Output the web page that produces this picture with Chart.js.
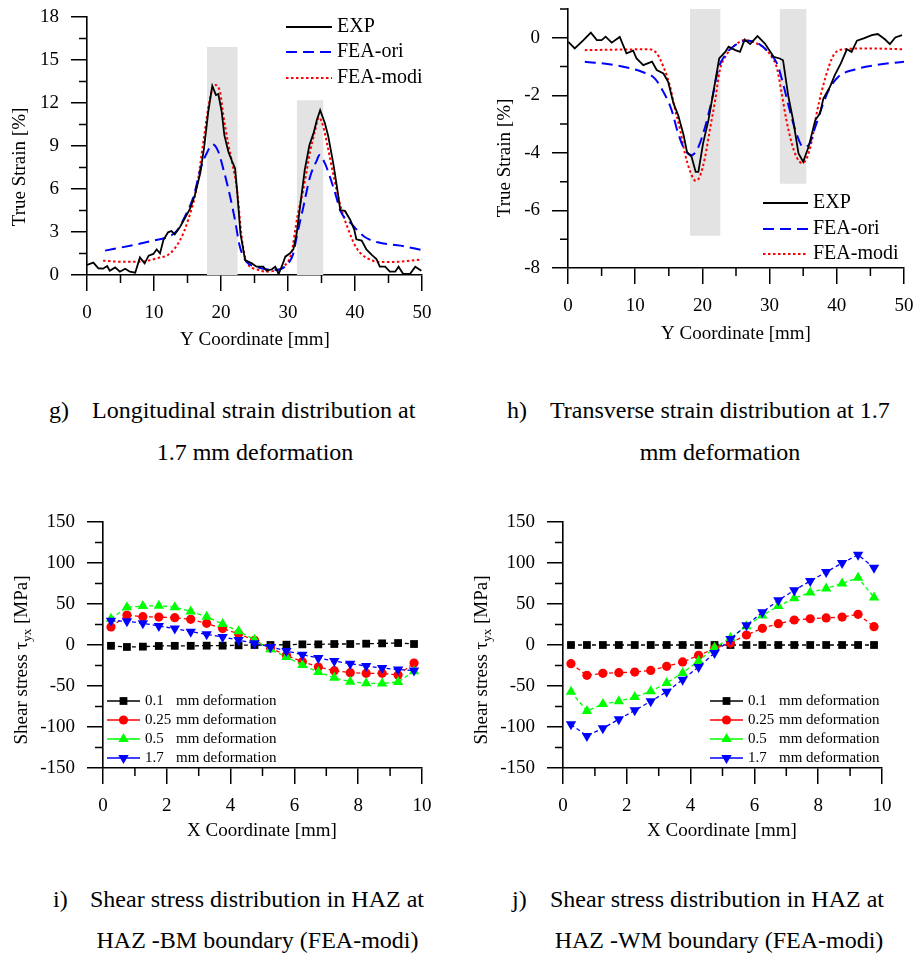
<!DOCTYPE html>
<html lang="en">
<head>
    <meta charset="UTF-8">
    <title>Strain and shear stress distributions</title>
    <script src="https://cdn.jsdelivr.net/npm/chart.js"></script>
    <style>
        body { margin: 0; width: 919px; height: 958px; background: #fff; position: relative; overflow: hidden; }
        canvas { position: absolute; }
        .cap { position: absolute; font: 24px/24px 'Liberation Serif', 'Times New Roman', serif; color: #000; white-space: pre; }
        .mid { text-align: center; }
    </style>
</head>
<body>
    <canvas id="chartG"></canvas>
    <canvas id="chartH"></canvas>
    <canvas id="chartI"></canvas>
    <canvas id="chartJ"></canvas>

    <div class="cap" style="left:49px;top:398px">g)</div>
    <div class="cap" style="left:92px;top:398px">Longitudinal strain distribution at</div>
    <div class="cap mid" style="left:92px;top:440px;width:326px">1.7 mm deformation</div>

    <div class="cap" style="left:507px;top:398px">h)</div>
    <div class="cap" style="left:550px;top:398px">Transverse strain distribution at 1.7</div>
    <div class="cap mid" style="left:550px;top:440px;width:340px">mm deformation</div>

    <div class="cap" style="left:53px;top:887px">i)</div>
    <div class="cap" style="left:90px;top:887px">Shear stress distribution in HAZ at</div>
    <div class="cap mid" style="left:90px;top:928px;width:335px">HAZ -BM boundary (FEA-modi)</div>

    <div class="cap" style="left:512px;top:887px">j)</div>
    <div class="cap" style="left:550px;top:887px">Shear stress distribution in HAZ at</div>
    <div class="cap mid" style="left:550px;top:928px;width:338px">HAZ -WM boundary (FEA-modi)</div>

    <script>
        // ---- data ----
        const STRAIN_SERIES = ['EXP', 'FEA-ori', 'FEA-modi'];
        const SHEAR_SERIES = ['0.1 mm deformation', '0.25 mm deformation', '0.5 mm deformation', '1.7 mm deformation'];

        // g) longitudinal strain
        const G_EXP_X = [0,0.95,1.7,2.4,3.0,3.4,4.2,4.9,5.7,6.4,7.2,7.9,8.6,9.2,9.9,10.4,10.9,11.4,12.1,12.6,13.1,13.9,14.6,15.4,16.1,16.9,17.5,18.1,18.7,19.25,19.6,20.1,20.5,21.1,21.6,22.1,22.4,22.9,23.6,24.6,25.3,26.3,26.8,27.6,28.1,28.6,29.1,29.6,30.3,30.8,31.3,31.8,32.5,33.2,33.8,34.3,34.8,35.5,36.0,36.8,37.3,37.8,38.5,39.3,39.9,40.2,41.0,41.7,42.5,43.2,43.7,44.5,45.2,46.0,46.5,47.2,48.2,49.0,49.9];
        const G_EXP_Y = [0.7,0.86,0.47,0.44,0.63,0.3,0.53,0.23,0.44,0.23,0.16,1.23,0.81,1.35,1.47,1.79,1.51,2.44,2.98,3.07,2.84,3.37,3.95,4.65,5.58,7.1,8.95,11.4,13.2,12.56,12.63,11.4,9.76,8.6,8.0,7.44,5.9,2.9,1.04,0.81,0.58,0.58,0.3,0.4,0.58,0.07,0.63,1.28,1.51,1.79,2.91,4.77,7.33,9.07,9.88,10.8,11.5,10.6,9.7,7.67,6.16,4.53,4.47,3.84,3.14,2.49,2.4,1.79,1.4,1.12,0.58,0.58,0.23,0.23,0.58,0.07,0.07,0.58,0.3];
        const G_ORI_X = [2.7,6.9,9.9,11.9,13.4,14.6,15.9,16.9,17.9,18.8,19.6,20.4,21.3,22.1,22.8,23.8,25.3,26.8,28.3,29.8,30.8,31.3,32.3,33.3,34.3,34.7,35.5,36.9,37.9,39.4,41.4,43.4,46.8,50];
        const G_ORI_Y = [1.7,2.09,2.4,2.63,3.07,4.07,5.47,7.33,8.53,9.1,8.6,7.3,5.6,3.8,2.0,0.93,0.58,0.4,0.35,0.7,1.51,2.67,4.77,6.86,8.0,8.37,7.8,5.93,4.4,3.6,2.67,2.28,2.05,1.74];
        const G_MODI_X = [2.4,4.9,7.9,10.4,12.4,13.9,15.1,16.4,17.4,18.3,19.1,19.9,20.3,21.1,21.6,22.4,23.1,23.8,25.3,26.8,28.3,29.6,30.5,31.4,32.3,33.3,34.0,34.6,35.3,35.9,36.9,37.9,38.9,40.2,41.7,44.2,46.7,50];
        const G_MODI_Y = [1.0,0.93,0.93,1.16,1.51,2.44,3.84,6.16,9.42,12.2,13.26,12.67,11.3,9.1,8.0,5.9,2.6,0.93,0.4,0.23,0.35,0.7,1.51,4.07,6.0,8.6,10.0,11.0,10.3,9.0,6.7,4.7,3.3,1.9,1.2,0.9,0.93,1.09];
        const G_BANDS = [[17.9, 22.5, 15.9], [31.3, 35.3, 12.2]]; // [from, to, top]

        // h) transverse strain
        const H_EXP_X = [0.05,1.0,2.3,3.4,4.3,5.0,5.6,6.5,7.7,8.7,9.7,10.2,11.2,12.5,13.2,14.2,14.9,15.7,16.4,17.2,17.7,18.4,19.0,19.4,20.1,20.9,21.6,22.5,23.4,23.9,24.9,25.6,26.3,27.1,28.2,29.3,30.6,31.5,32.0,32.8,33.5,34.3,35.0,35.8,36.8,37.5,38.0,39.0,39.7,40.6,41.5,42.2,43.0,44.0,45.2,46.1,47.2,47.9,48.7,49.7];
        const H_EXP_Y = [-0.14,-0.37,-0.08,0.18,-0.08,-0.08,0.04,-0.17,0.03,-0.54,-0.45,-0.72,-0.95,-0.83,-1.12,-1.24,-1.53,-2.28,-2.69,-3.38,-3.96,-4.14,-4.66,-4.66,-3.67,-2.86,-1.93,-0.72,-0.49,-0.31,-0.43,-0.49,-0.06,-0.22,0.06,-0.2,-0.66,-0.72,-0.78,-2.05,-2.86,-4.02,-4.31,-3.79,-2.86,-2.63,-2.11,-1.7,-1.3,-0.89,-0.4,-0.49,-0.1,-0.02,0.09,0.13,-0.06,-0.22,0.01,0.09];
        const H_ORI_X = [2.5,7.0,11.0,12.9,14.2,15.4,16.4,17.4,18.4,19.3,20.4,21.4,22.4,23.4,24.9,26.8,28.3,29.8,31.1,32.0,33.0,34.0,35.0,35.8,36.8,37.8,38.8,40.2,42.7,45.7,50];
        const H_ORI_Y = [-0.83,-0.95,-1.18,-1.41,-1.88,-2.5,-3.33,-3.9,-4.08,-3.85,-3.1,-2.17,-1.06,-0.6,-0.25,-0.1,-0.2,-0.49,-0.89,-1.59,-2.52,-3.33,-3.79,-3.73,-3.1,-2.4,-1.82,-1.36,-1.1,-0.95,-0.83];
        const H_MODI_X = [2.5,11.9,13.2,14.2,15.2,15.9,16.7,17.4,18.2,19.0,19.6,20.4,21.1,21.9,22.6,23.4,24.9,26.3,27.8,29.3,30.3,31.1,31.8,32.5,33.3,34.0,34.8,35.5,36.3,37.0,37.8,38.8,39.7,41.2,44.7,50];
        const H_MODI_Y = [-0.43,-0.4,-0.54,-1.01,-1.7,-2.46,-3.21,-4.02,-4.66,-4.97,-4.83,-4.14,-3.21,-2.17,-1.12,-0.66,-0.25,-0.08,-0.17,-0.37,-0.66,-1.06,-1.93,-2.86,-3.67,-4.14,-4.35,-4.2,-3.56,-2.63,-1.82,-1.01,-0.54,-0.4,-0.37,-0.4];
        const H_BANDS = [[18.15, 22.7, -6.88], [31.5, 35.5, -5.07]]; // [from, to, bottom]

        // i) / j) shear stress
        const SHEAR_X = [0.25,0.75,1.25,1.75,2.25,2.75,3.25,3.75,4.25,4.75,5.25,5.75,6.25,6.75,7.25,7.75,8.25,8.75,9.25,9.75];
        const I_01 = [-1,-2.4,-2,-1.2,-1,-1,-0.8,-0.8,-0.4,0,0,0.4,0.8,0.8,1.2,1.2,1.6,2,2.4,1.2];
        const I_025 = [22,36.6,34.5,34,33.3,31.3,26.4,20,13.8,5.7,-3.7,-12.6,-20.3,-26.8,-31.3,-33.7,-34.6,-34.6,-36.6,-22];
        const I_05 = [32,46,47.5,48,46,41,34.5,25.6,16.7,6.5,-5.3,-14.6,-24.4,-33,-40,-44.7,-46.7,-47,-45,-32];
        const I_17 = [29.7,28.9,26.4,23.2,20,16.3,13,9.8,6,2,-2.4,-7.3,-11.8,-15.9,-19.5,-22.8,-25.6,-28,-30,-31];
        const J_01 = [0,0,0,0,0,0,0,0,0,0,0,0,0,0,0,0,0,0,0,0];
        const J_025 = [-22.8,-37,-34.6,-33.7,-33,-31,-26,-20.7,-12.6,-4.5,2.4,12.2,20.3,26,30.5,32,33,34,37.4,22.4];
        const J_05 = [-57,-80.5,-72,-68.7,-63.4,-56.5,-46.3,-34,-19.5,-3.3,8.5,23,36,47.6,57,64,69,75,82,58];
        const J_17 = [-96.7,-111,-101.6,-90.6,-79.7,-68.7,-57,-42.3,-26.8,-9.8,7.3,24,40,54.5,66.7,78,89,100,110,94.3];

        // axis ticks
        const STRAIN_X_TICKS = [0, 10, 20, 30, 40, 50];
        const STRAIN_X_MINOR = [5, 15, 25, 35, 45];
        const G_Y_TICKS = [0, 3, 6, 9, 12, 15, 18];
        const G_Y_MINOR = [1.5, 4.5, 7.5, 10.5, 13.5, 16.5];
        const H_Y_TICKS = [-8, -6, -4, -2, 0];
        const H_Y_MINOR = [-7, -5, -3, -1, 1];
        const SHEAR_X_TICKS = [0, 2, 4, 6, 8, 10];
        const SHEAR_X_MINOR = [1, 3, 5, 7, 9];
        const SHEAR_Y_TICKS = [-150, -100, -50, 0, 50, 100, 150];
        const SHEAR_Y_MINOR = [-125, -75, -25, 25, 75, 125];

        // ---- drawing ----
        const FONT = "'Liberation Serif', 'Times New Roman', serif";
        const YW = 92, XH = 80, PT = 28, PR = 24;
        const DECOR = {};

        const pts = (xs, ys) => xs.map((x, i) => ({ x: x, y: ys[i] }));

        function drawMarker(ctx, ds, x, y) {
            const r = ds.pointRadius;
            ctx.fillStyle = ds.pointBackgroundColor;
            ctx.beginPath();
            if (ds.pointStyle === 'rect') {
                const s = r * Math.SQRT1_2;
                ctx.rect(x - s, y - s, 2 * s, 2 * s);
            } else if (ds.pointStyle === 'circle') {
                ctx.arc(x, y, r, 0, Math.PI * 2);
            } else {
                const k = ds.pointRotation === 180 ? -1 : 1;
                ctx.moveTo(x, y - k * r);
                ctx.lineTo(x + 0.866 * r, y + k * r / 2);
                ctx.lineTo(x - 0.866 * r, y + k * r / 2);
                ctx.closePath();
            }
            ctx.fill();
        }

        const decorPlugin = {
            id: 'decor',
            afterDraw(chart) {
                const d = DECOR[chart.canvas.id];
                if (!d) return;
                const ctx = chart.ctx, a = chart.chartArea;
                const xs = chart.scales.x, ys = chart.scales.y;
                ctx.save();

                // minor ticks
                ctx.strokeStyle = '#000';
                ctx.lineWidth = 1.5;
                ctx.beginPath();
                d.minorX.forEach(v => { const p = xs.getPixelForValue(v); ctx.moveTo(p, a.bottom); ctx.lineTo(p, a.bottom + 8); });
                d.minorY.forEach(v => { const p = ys.getPixelForValue(v); ctx.moveTo(a.left - 8, p); ctx.lineTo(a.left, p); });
                ctx.stroke();

                // x title
                ctx.fillStyle = '#000';
                ctx.font = '19px ' + FONT;
                ctx.textAlign = 'center';
                ctx.textBaseline = 'middle';
                ctx.fillText(d.xTitle, d.xTitlePos[0] - d.ox, d.xTitlePos[1] - d.oy);

                // y title, rotated, with optional subscript part
                ctx.save();
                ctx.translate(d.yTitlePos[0] - d.ox, d.yTitlePos[1] - d.oy);
                ctx.rotate(-Math.PI / 2);
                ctx.textAlign = 'left';
                const fonts = d.yTitle.map(p => (p.sub ? '13px ' : '19px ') + FONT);
                let total = 0;
                const widths = d.yTitle.map((p, i) => { ctx.font = fonts[i]; const w = ctx.measureText(p.t).width; total += w; return w; });
                let tx = -total / 2;
                d.yTitle.forEach((p, i) => {
                    ctx.font = fonts[i];
                    ctx.fillText(p.t, tx, p.sub ? 6 : 0);
                    tx += widths[i];
                });
                ctx.restore();

                // legend
                const L = d.legend;
                const items = chart.data.datasets.filter(ds => ds.label);
                items.forEach((ds, i) => {
                    const y = L.rows[i] - d.oy;
                    ctx.strokeStyle = ds.borderColor;
                    ctx.lineWidth = ds.borderWidth;
                    ctx.setLineDash(L.markers ? [] : (ds.borderDash || []));
                    ctx.beginPath();
                    ctx.moveTo(L.x1 - d.ox, y);
                    ctx.lineTo(L.x2 - d.ox, y);
                    ctx.stroke();
                    ctx.setLineDash([]);
                    if (L.markers) drawMarker(ctx, ds, (L.x1 + L.x2) / 2 - d.ox, y);
                    ctx.fillStyle = '#000';
                    ctx.font = L.size + 'px ' + FONT;
                    ctx.textAlign = 'left';
                    ctx.textBaseline = 'middle';
                    if (L.tx2) {
                        const cut = ds.label.indexOf(' ');
                        ctx.fillText(ds.label.slice(0, cut), L.tx - d.ox, y);
                        ctx.fillText(ds.label.slice(cut + 1), L.tx2 - d.ox, y);
                    } else {
                        ctx.fillText(ds.label, L.tx - d.ox, y);
                    }
                });
                ctx.restore();
            }
        };

        function axis(ax, horiz) {
            return {
                type: 'linear',
                min: ax.min,
                max: ax.max,
                afterBuildTicks: s => { s.ticks = ax.ticks.map(v => ({ value: v })); },
                afterFit: s => { if (horiz) s.height = XH; else s.width = YW; },
                grid: { drawOnChartArea: false, drawTicks: true, tickLength: 16, color: '#000', lineWidth: 1.5 },
                border: { display: true, color: '#000', width: 1.6 },
                ticks: {
                    color: '#000',
                    font: { family: FONT, size: 19 },
                    padding: horiz ? 11 : 12,
                    maxRotation: 0,
                    autoSkip: false,
                    callback: v => String(v)
                }
            };
        }

        function makeChart(id, area, datasets, xAxis, yAxis, decor) {
            const cv = document.getElementById(id);
            const ox = area.l - YW, oy = area.t - PT;
            cv.width = area.r - area.l + YW + PR;
            cv.height = area.b - area.t + PT + XH;
            cv.style.left = ox + 'px';
            cv.style.top = oy + 'px';
            DECOR[id] = Object.assign({ ox: ox, oy: oy }, decor);
            return new Chart(cv, {
                type: 'line',
                data: { datasets: datasets },
                options: {
                    responsive: false,
                    animation: false,
                    devicePixelRatio: 1,
                    events: [],
                    layout: { padding: { left: 0, top: PT, right: PR, bottom: 0 } },
                    plugins: { legend: { display: false }, tooltip: { enabled: false } },
                    scales: { x: axis(xAxis, true), y: axis(yAxis, false) }
                },
                plugins: [decorPlugin]
            });
        }

        function bandSet(b, fillTo) {
            return {
                data: [{ x: b[0], y: b[2] }, { x: b[1], y: b[2] }],
                borderWidth: 0, borderColor: 'rgba(0,0,0,0)', pointRadius: 0,
                backgroundColor: '#e3e3e3', fill: fillTo, order: 10
            };
        }

        function strainSets(ex, ey, ox_, oy_, mx, my, bands, fillTo) {
            return [
                { label: STRAIN_SERIES[0], data: pts(ex, ey), borderColor: '#000', borderWidth: 1.8, pointRadius: 0, tension: 0 },
                { label: STRAIN_SERIES[1], data: pts(ox_, oy_), borderColor: '#0000ff', borderWidth: 2, borderDash: [11, 6], pointRadius: 0, cubicInterpolationMode: 'monotone' },
                { label: STRAIN_SERIES[2], data: pts(mx, my), borderColor: '#ff0000', borderWidth: 2, borderDash: [2.5, 2.5], pointRadius: 0, cubicInterpolationMode: 'monotone' }
            ].concat(bands.map(b => bandSet(b, fillTo)));
        }

        function shearSets(a, b, c, d) {
            const st = [
                ['#000000', 'rect', 5.5, 0],
                ['#ff0000', 'circle', 4.6, 0],
                ['#00ff00', 'triangle', 6, 0],
                ['#0000ff', 'triangle', 6, 180]
            ];
            return [a, b, c, d].map((ys, i) => ({
                label: SHEAR_SERIES[i],
                data: pts(SHEAR_X, ys),
                borderColor: st[i][0],
                borderWidth: 1.3,
                borderDash: [4, 3],
                pointStyle: st[i][1],
                pointRadius: st[i][2],
                pointRotation: st[i][3],
                pointBackgroundColor: st[i][0],
                pointBorderColor: st[i][0],
                pointBorderWidth: 0,
                order: 3 - i
            }));
        }

        makeChart('chartG', { l: 87, t: 17, r: 422, b: 275 },
            strainSets(G_EXP_X, G_EXP_Y, G_ORI_X, G_ORI_Y, G_MODI_X, G_MODI_Y, G_BANDS, 'origin'),
            { min: 0, max: 50, ticks: STRAIN_X_TICKS }, { min: 0, max: 18, ticks: G_Y_TICKS },
            {
                minorX: STRAIN_X_MINOR, minorY: G_Y_MINOR,
                xTitle: 'Y Coordinate [mm]', xTitlePos: [255, 340],
                yTitle: [{ t: 'True Strain [%]' }], yTitlePos: [20, 167],
                legend: { x1: 286, x2: 332, tx: 337, rows: [27, 52, 78], size: 20, markers: false }
            });

        makeChart('chartH', { l: 568, t: 9, r: 904, b: 268 },
            strainSets(H_EXP_X, H_EXP_Y, H_ORI_X, H_ORI_Y, H_MODI_X, H_MODI_Y, H_BANDS, 'end'),
            { min: 0, max: 50, ticks: STRAIN_X_TICKS }, { min: -8, max: 1, ticks: H_Y_TICKS },
            {
                minorX: STRAIN_X_MINOR, minorY: H_Y_MINOR,
                xTitle: 'Y Coordinate [mm]', xTitlePos: [736, 334],
                yTitle: [{ t: 'True Strain [%]' }], yTitlePos: [505, 158],
                legend: { x1: 763, x2: 808, tx: 813, rows: [203, 229, 254], size: 20, markers: false }
            });

        const shearTitle = [{ t: 'Shear stress \u03c4' }, { t: 'yx', sub: true }, { t: ' [MPa]' }];

        makeChart('chartI', { l: 103, t: 522, r: 422, b: 768 },
            shearSets(I_01, I_025, I_05, I_17),
            { min: 0, max: 10, ticks: SHEAR_X_TICKS }, { min: -150, max: 150, ticks: SHEAR_Y_TICKS },
            {
                minorX: SHEAR_X_MINOR, minorY: SHEAR_Y_MINOR,
                xTitle: 'X Coordinate [mm]', xTitlePos: [262, 831],
                yTitle: shearTitle, yTitlePos: [22, 660],
                legend: { x1: 107, x2: 140, tx: 145, tx2: 176, rows: [701, 720, 739, 758], size: 15, markers: true }
            });

        makeChart('chartJ', { l: 563, t: 522, r: 882, b: 768 },
            shearSets(J_01, J_025, J_05, J_17),
            { min: 0, max: 10, ticks: SHEAR_X_TICKS }, { min: -150, max: 150, ticks: SHEAR_Y_TICKS },
            {
                minorX: SHEAR_X_MINOR, minorY: SHEAR_Y_MINOR,
                xTitle: 'X Coordinate [mm]', xTitlePos: [722, 831],
                yTitle: shearTitle, yTitlePos: [482, 660],
                legend: { x1: 710, x2: 743, tx: 748, tx2: 779, rows: [701, 720, 739, 758], size: 15, markers: true }
            });
    </script>
</body>
</html>
